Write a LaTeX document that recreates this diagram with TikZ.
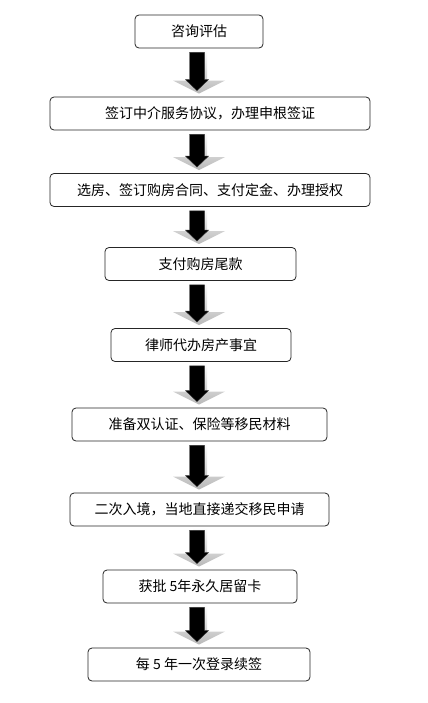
\documentclass[tikz,border=0pt]{standalone}
\usepackage{fontspec}
\newfontfamily\cjk{Noto Sans CJK SC}
\usetikzlibrary{calc}
\tikzset{
  stepbox/.style={draw=black!85, line width=0.6pt, rounded corners=3pt, fill=white,
    minimum height=33*0.75pt, inner sep=0pt, font=\cjk\fontsize{10.5}{12}\selectfont},
  blackarrow/.style={fill=black, draw=black!80, line width=0.3pt},
  greyarrow/.style={top color=white, bottom color=black!28, draw=none},
}
\newcommand\flowarrow[2]{%
  \shade[greyarrow]
    ($(#1.south -| ax)+(-4,1)$) -- ($(#1.south -| ax)+(10,1)$) --
    ($(#2.north -| ax)+(10,-16)$) -- ($(#2.north -| ax)+(28,-16)$) --
    ($(#2.north -| ax)+(2,-3)$) -- ($(#2.north -| ax)+(-24,-16)$) --
    ($(#2.north -| ax)+(-4,-16)$) -- cycle;
  \draw[blackarrow]
    ($(#1.south -| ax)+(-7.5,4)$) -- ($(#1.south -| ax)+(7.5,4)$) --
    ($(#2.north -| ax)+(7.5,-17)$) -- ($(#2.north -| ax)+(11.5,-17)$) --
    ($(#2.north -| ax)+(0,-6)$) -- ($(#2.north -| ax)+(-11.5,-17)$) --
    ($(#2.north -| ax)+(-7.5,-17)$) -- cycle;
}
\begin{document}
\begin{tikzpicture}[x=0.75pt,y=-0.75pt]
\useasboundingbox[fill=white] (0,0) rectangle (428,703);
\coordinate (ax) at (197,0);
\node[stepbox, minimum width=128*0.75pt] (n1) at (199,31.5) {咨询评估};
\node[stepbox, minimum width=320*0.75pt] (n2) at (210,113.5) {签订中介服务协议，办理申根签证};
\node[stepbox, minimum width=320*0.75pt] (n3) at (210,190) {选房、签订购房合同、支付定金、办理授权};
\node[stepbox, minimum width=191*0.75pt] (n4) at (200.5,264) {支付购房尾款};
\node[stepbox, minimum width=180*0.75pt] (n5) at (201,345) {律师代办房产事宜};
\node[stepbox, minimum width=255*0.75pt] (n6) at (199.5,424.5) {准备双认证、保险等移民材料};
\node[stepbox, minimum width=259*0.75pt] (n7) at (199.5,509.5) {二次入境，当地直接递交移民申请};
\node[stepbox, minimum width=194*0.75pt] (n8) at (200,586.5) {获批 5年永久居留卡};
\node[stepbox, minimum width=222*0.75pt] (n9) at (199,664.5) {每 5 年一次登录续签};
\flowarrow{n1}{n2}
\flowarrow{n2}{n3}
\flowarrow{n3}{n4}
\flowarrow{n4}{n5}
\flowarrow{n5}{n6}
\flowarrow{n6}{n7}
\flowarrow{n7}{n8}
\flowarrow{n8}{n9}
\end{tikzpicture}
\end{document}
